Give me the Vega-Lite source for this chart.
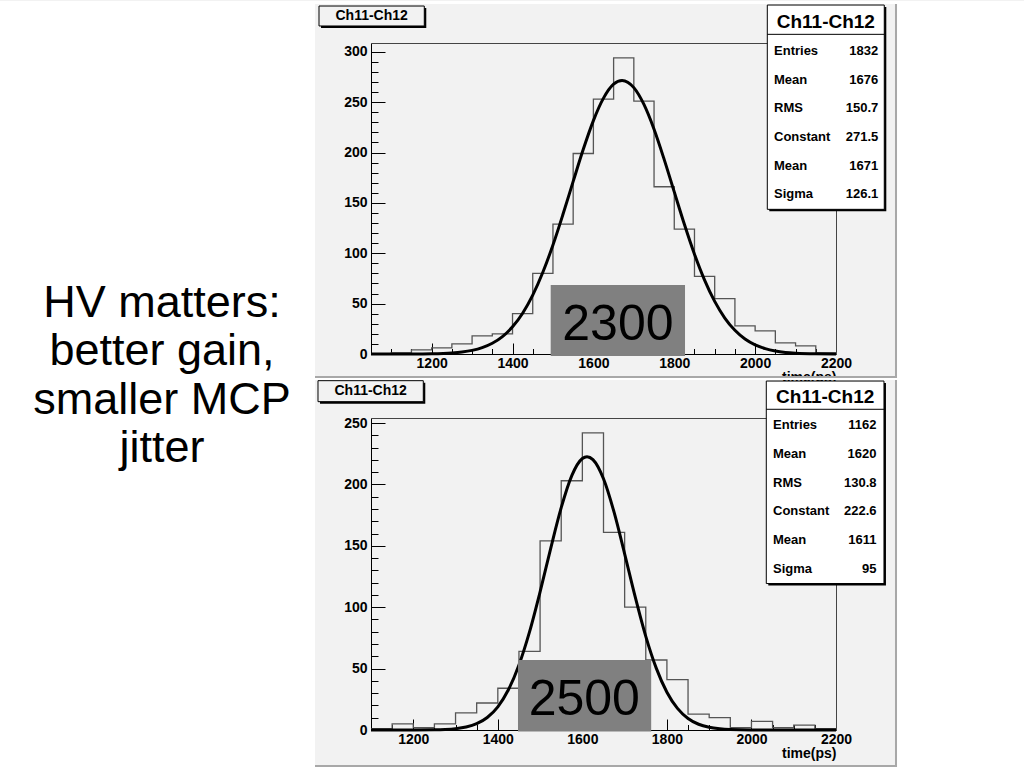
{
  "$schema": "https://vega.github.io/schema/vega-lite/v6.json",
  "background": "#f2f2f2",
  "padding": 0,
  "autosize": {"type": "pad"},
  "config": {
    "view": {"stroke": null},
    "axis": {"grid": false, "labelFont": "Liberation Sans", "labelFontSize": 14, "labelFontWeight": "bold", "labelColor": "black", "tickColor": "black", "tickWidth": 1, "domainColor": "black", "domainWidth": 1, "titleFont": "Liberation Sans", "titleFontWeight": "bold", "titleFontSize": 14, "titleColor": "black", "labelFlush": false, "labelOverlap": false}
  },
  "datasets": {
    "top_hist": [{"t":1050,"n":0},{"t":1100,"n":1},{"t":1150,"n":4},{"t":1200,"n":6},{"t":1250,"n":10},{"t":1300,"n":18},{"t":1350,"n":20},{"t":1400,"n":40},{"t":1450,"n":80},{"t":1500,"n":129},{"t":1550,"n":199},{"t":1600,"n":253},{"t":1650,"n":294},{"t":1700,"n":251},{"t":1750,"n":166},{"t":1800,"n":124},{"t":1850,"n":77},{"t":1900,"n":55},{"t":1950,"n":28},{"t":2000,"n":23},{"t":2050,"n":11},{"t":2100,"n":8},{"t":2150,"n":1},{"t":2200,"n":0}],
    "top_fit": [{"t":1050,"f":0},{"t":1100,"f":0.01},{"t":1150,"f":0.05},{"t":1200,"f":0.25},{"t":1250,"f":1.03},{"t":1275,"f":1.96},{"t":1300,"f":3.58},{"t":1325,"f":6.3},{"t":1350,"f":10.63},{"t":1375,"f":17.28},{"t":1400,"f":26.97},{"t":1425,"f":40.48},{"t":1450,"f":58.45},{"t":1475,"f":81.15},{"t":1500,"f":108.2},{"t":1525,"f":138.9},{"t":1550,"f":171.3},{"t":1575,"f":203.2},{"t":1600,"f":231.7},{"t":1625,"f":254.0},{"t":1650,"f":267.8},{"t":1671,"f":271.5},{"t":1700,"f":264.4},{"t":1725,"f":247.7},{"t":1750,"f":223.1},{"t":1775,"f":193.2},{"t":1800,"f":160.9},{"t":1825,"f":128.8},{"t":1850,"f":99.1},{"t":1875,"f":73.4},{"t":1900,"f":52.2},{"t":1925,"f":35.7},{"t":1950,"f":23.5},{"t":1975,"f":14.85},{"t":2000,"f":9.03},{"t":2025,"f":5.28},{"t":2050,"f":2.97},{"t":2075,"f":1.6},{"t":2100,"f":0.83},{"t":2150,"f":0.2},{"t":2200,"f":0.04}],
    "top_stats": [{"row":1,"k":"Entries","v":"1832"},{"row":2,"k":"Mean","v":"1676"},{"row":3,"k":"RMS","v":"150.7"},{"row":4,"k":"Constant","v":"271.5"},{"row":5,"k":"Mean","v":"1671"},{"row":6,"k":"Sigma","v":"126.1"}],
    "bot_hist": [{"t":1100,"n":1},{"t":1150,"n":5},{"t":1200,"n":2},{"t":1250,"n":5},{"t":1300,"n":14},{"t":1350,"n":22},{"t":1400,"n":34},{"t":1450,"n":64},{"t":1500,"n":154},{"t":1550,"n":203},{"t":1600,"n":242},{"t":1650,"n":161},{"t":1700,"n":100},{"t":1750,"n":57},{"t":1800,"n":41},{"t":1850,"n":13},{"t":1900,"n":10},{"t":1950,"n":2},{"t":2000,"n":7},{"t":2050,"n":2},{"t":2100,"n":4},{"t":2150,"n":1},{"t":2200,"n":0}],
    "bot_fit": [{"t":1100,"f":0},{"t":1200,"f":0.02},{"t":1250,"f":0.16},{"t":1275,"f":0.43},{"t":1300,"f":1.05},{"t":1325,"f":2.39},{"t":1350,"f":5.11},{"t":1375,"f":10.17},{"t":1400,"f":18.89},{"t":1425,"f":32.74},{"t":1450,"f":52.96},{"t":1475,"f":79.9},{"t":1500,"f":112.5},{"t":1525,"f":147.8},{"t":1550,"f":181.1},{"t":1575,"f":207.2},{"t":1600,"f":221.1},{"t":1611,"f":222.6},{"t":1625,"f":220.2},{"t":1650,"f":204.6},{"t":1675,"f":177.4},{"t":1700,"f":143.5},{"t":1725,"f":108.4},{"t":1750,"f":76.3},{"t":1775,"f":50.2},{"t":1800,"f":30.8},{"t":1825,"f":17.6},{"t":1850,"f":9.4},{"t":1875,"f":4.68},{"t":1900,"f":2.18},{"t":1925,"f":0.94},{"t":1950,"f":0.38},{"t":2000,"f":0.05},{"t":2100,"f":0},{"t":2200,"f":0}],
    "bot_stats": [{"row":1,"k":"Entries","v":"1162"},{"row":2,"k":"Mean","v":"1620"},{"row":3,"k":"RMS","v":"130.8"},{"row":4,"k":"Constant","v":"222.6"},{"row":5,"k":"Mean","v":"1611"},{"row":6,"k":"Sigma","v":"95"}]
  },
  "vconcat": [
    {
      "width": 465,
      "height": 311,
      "layer": [
        {
          "layer": [
            {"data": {"values": [{}]}, "mark": {"type": "rect", "color": "white"}, "encoding": {"x": {"datum": 132.5, "type": "quantitative", "axis": null}, "x2": {"datum": 911.5}, "y": {"datum": -411.9, "type": "quantitative", "axis": null}, "y2": {"datum": 350.4}}},
            {"data": {"values": [{}]}, "mark": {"type": "rect", "color": "white"}, "encoding": {"x": {"datum": 2350.9, "type": "quantitative", "axis": null}, "x2": {"datum": 2664.9}, "y": {"datum": -411.9, "type": "quantitative", "axis": null}, "y2": {"datum": 350.4}}},
            {"data": {"values": [{}]}, "mark": {"type": "rect", "color": "white"}, "encoding": {"x": {"datum": 911.5, "type": "quantitative", "axis": null}, "x2": {"datum": 2350.9}, "y": {"datum": 347.4, "type": "quantitative", "axis": null}, "y2": {"datum": 350.4}}},
            {"data": {"values": [{}]}, "mark": {"type": "rect", "color": "white"}, "encoding": {"x": {"datum": 911.5, "type": "quantitative", "axis": null}, "x2": {"datum": 2350.9}, "y": {"datum": -25.8, "type": "quantitative", "axis": null}, "y2": {"datum": -23.8}}},
            {"data": {"values": [{}]}, "mark": {"type": "rect", "color": "white"}, "encoding": {"x": {"datum": 911.5, "type": "quantitative", "axis": null}, "x2": {"datum": 2350.9}, "y": {"datum": -411.9, "type": "quantitative", "axis": null}, "y2": {"datum": -409.9}}},
            {"data": {"values": [{}]}, "mark": {"type": "rect", "color": "#a8a8a8"}, "encoding": {"x": {"datum": 2345.9, "type": "quantitative", "axis": null}, "x2": {"datum": 2350.9}, "y": {"datum": -23.8, "type": "quantitative", "axis": null}, "y2": {"datum": 347.4}}},
            {"data": {"values": [{}]}, "mark": {"type": "rect", "color": "#a8a8a8"}, "encoding": {"x": {"datum": 911.5, "type": "quantitative", "axis": null}, "x2": {"datum": 2350.9}, "y": {"datum": -23.8, "type": "quantitative", "axis": null}, "y2": {"datum": -21.8}}},
            {"data": {"values": [{}]}, "mark": {"type": "rect", "color": "#a8a8a8"}, "encoding": {"x": {"datum": 2345.9, "type": "quantitative", "axis": null}, "x2": {"datum": 2350.9}, "y": {"datum": -409.9, "type": "quantitative", "axis": null}, "y2": {"datum": -25.8}}},
            {"data": {"values": [{}]}, "mark": {"type": "rect", "color": "#a8a8a8"}, "encoding": {"x": {"datum": 911.5, "type": "quantitative", "axis": null}, "x2": {"datum": 2350.9}, "y": {"datum": -409.9, "type": "quantitative", "axis": null}, "y2": {"datum": -407.9}}},
            {"data": {"values": [{}]}, "mark": {"type": "text", "text": ["HV matters:", "better gain,", "smaller MCP", "jitter"], "font": "Liberation Sans", "fontSize": 45, "lineHeight": 48.5, "align": "center", "baseline": "alphabetic", "color": "black"}, "encoding": {"x": {"datum": 533.1, "type": "quantitative", "axis": null}, "y": {"datum": 37.0, "type": "quantitative", "axis": null}}},
            {
              "data": {"name": "top_hist"},
              "mark": {"type": "line", "interpolate": "step-after", "color": "#555555", "strokeWidth": 1.3},
              "encoding": {
                "x": {"field": "t", "type": "quantitative", "scale": {"domain": [1050, 2200], "nice": false, "zero": false}, "axis": {"orient": "bottom", "values": [1200, 1400, 1600, 1800, 2000, 2200], "format": "d", "ticks": false, "domain": true, "labelPadding": 2, "title": "time(ps)", "titleAnchor": "end", "titlePadding": 0}},
                "y": {"field": "n", "type": "quantitative", "scale": {"domain": [0, 308.7], "nice": false, "zero": false}, "axis": {"orient": "left", "values": [0, 50, 100, 150, 200, 250, 300], "ticks": false, "domain": true, "labelPadding": 4, "title": null}}
              }
            },
            {
              "data": {"name": "top_fit"},
              "mark": {"type": "line", "interpolate": "monotone", "color": "black", "strokeWidth": 3},
              "encoding": {
                "x": {"field": "t", "type": "quantitative", "axis": {"orient": "bottom", "values": [1200, 1400, 1600, 1800, 2000, 2200], "ticks": true, "tickSize": -11, "labels": false, "domain": false, "title": null}},
                "y": {"field": "f", "type": "quantitative", "axis": {"orient": "left", "values": [0, 50, 100, 150, 200, 250, 300], "ticks": true, "tickSize": -14, "labels": false, "domain": false, "title": null}}
              }
            },
            {
              "data": {"name": "top_hist"},
              "mark": {"type": "point", "opacity": 0},
              "encoding": {
                "x": {"field": "t", "type": "quantitative", "axis": {"orient": "bottom", "values": [1100, 1150, 1250, 1300, 1350, 1450, 1500, 1550, 1650, 1700, 1750, 1850, 1900, 1950, 2050, 2100, 2150], "ticks": true, "tickSize": -5.5, "labels": false, "domain": false, "title": null}},
                "y": {"field": "n", "type": "quantitative", "axis": {"orient": "left", "values": [10, 20, 30, 40, 60, 70, 80, 90, 110, 120, 130, 140, 160, 170, 180, 190, 210, 220, 230, 240, 260, 270, 280, 290], "ticks": true, "tickSize": -7, "labels": false, "domain": false, "title": null}}
              }
            },
            {
              "data": {"name": "top_hist"},
              "mark": {"type": "point", "opacity": 0},
              "encoding": {
                "x": {"field": "t", "type": "quantitative", "axis": {"orient": "top", "ticks": false, "labels": false, "domain": true, "domainColor": "#444444", "title": null}},
                "y": {"field": "n", "type": "quantitative", "axis": {"orient": "right", "ticks": false, "labels": false, "domain": true, "domainColor": "#444444", "title": null}}
              }
            },
            {"data": {"values": [{}]}, "mark": {"type": "rect", "color": "#808080"}, "encoding": {"x": {"datum": 1494.4, "type": "quantitative", "axis": null}, "x2": {"datum": 1826.6}, "y": {"datum": -2.0, "type": "quantitative", "axis": null}, "y2": {"datum": 68.5}}},
            {"data": {"values": [{}]}, "mark": {"type": "text", "text": "2300", "font": "Liberation Sans", "fontSize": 50, "align": "center", "baseline": "alphabetic", "color": "black"}, "encoding": {"x": {"datum": 1660.6, "type": "quantitative", "axis": null}, "y": {"datum": 13.6, "type": "quantitative", "axis": null}}},
            {"data": {"values": [{}]}, "mark": {"type": "rect", "color": "black"}, "encoding": {"x": {"datum": 926.4, "type": "quantitative", "axis": null}, "x2": {"datum": 1186.7}, "y": {"datum": 323.6, "type": "quantitative", "axis": null}, "y2": {"datum": 343.4}}},
            {"data": {"values": [{}]}, "mark": {"type": "rect", "fill": "#f2f2f2", "stroke": "black", "strokeWidth": 1}, "encoding": {"x": {"datum": 921.4, "type": "quantitative", "axis": null}, "x2": {"datum": 1181.8}, "y": {"datum": 325.6, "type": "quantitative", "axis": null}, "y2": {"datum": 345.4}}},
            {"data": {"values": [{}]}, "mark": {"type": "text", "text": "Ch11-Ch12", "font": "Liberation Sans", "fontSize": 14, "fontWeight": "bold", "align": "center", "baseline": "middle", "color": "black"}, "encoding": {"x": {"datum": 1051.6, "type": "quantitative", "axis": null}, "y": {"datum": 335.5, "type": "quantitative", "axis": null}}},
            {"data": {"values": [{}]}, "mark": {"type": "rect", "color": "black"}, "encoding": {"x": {"datum": 2035.0, "type": "quantitative", "axis": null}, "x2": {"datum": 2324.4}, "y": {"datum": 141.6, "type": "quantitative", "axis": null}, "y2": {"datum": 344.4}}},
            {"data": {"values": [{}]}, "mark": {"type": "rect", "fill": "white", "stroke": "black", "strokeWidth": 1}, "encoding": {"x": {"datum": 2030.1, "type": "quantitative", "axis": null}, "x2": {"datum": 2319.4}, "y": {"datum": 143.6, "type": "quantitative", "axis": null}, "y2": {"datum": 346.4}}},
            {"data": {"values": [{}]}, "mark": {"type": "rule", "color": "black", "strokeWidth": 1}, "encoding": {"x": {"datum": 2030.1, "type": "quantitative", "axis": null}, "x2": {"datum": 2319.4}, "y": {"datum": 317.3, "type": "quantitative", "axis": null}}},
            {"data": {"values": [{}]}, "mark": {"type": "text", "text": "Ch11-Ch12", "font": "Liberation Sans", "fontSize": 19, "fontWeight": "bold", "align": "center", "baseline": "middle", "color": "black"}, "encoding": {"x": {"datum": 2174.8, "type": "quantitative", "axis": null}, "y": {"datum": 329.8, "type": "quantitative", "axis": null}}}
          ],
          "resolve": {"axis": {"x": "independent", "y": "independent"}}
        },
        {
          "data": {"name": "top_stats"},
          "mark": {"type": "text", "align": "left", "baseline": "middle", "font": "Liberation Sans", "fontSize": 13, "fontWeight": "bold", "color": "black"},
          "encoding": {
            "x": {"datum": 2046.7, "type": "quantitative", "scale": {"domain": [1050, 2200], "nice": false, "zero": false}, "axis": null},
            "y": {"field": "row", "type": "quantitative", "scale": {"domain": [0.7209, 11.572], "reverse": true, "nice": false, "zero": false}, "axis": null},
            "text": {"field": "k"}
          }
        },
        {
          "data": {"name": "top_stats"},
          "mark": {"type": "text", "align": "right", "baseline": "middle", "font": "Liberation Sans", "fontSize": 13, "fontWeight": "bold", "color": "black"},
          "encoding": {
            "x": {"datum": 2304.6, "type": "quantitative", "scale": {"domain": [1050, 2200], "nice": false, "zero": false}, "axis": null},
            "y": {"field": "row", "type": "quantitative", "scale": {"domain": [0.7209, 11.572], "reverse": true, "nice": false, "zero": false}, "axis": null},
            "text": {"field": "v"}
          }
        }
      ],
      "resolve": {"scale": {"y": "independent"}, "axis": {"x": "independent", "y": "independent"}}
    },
    {
      "width": 465,
      "height": 312,
      "layer": [
        {
          "layer": [
            {
              "data": {"name": "bot_hist"},
              "mark": {"type": "line", "interpolate": "step-after", "color": "#555555", "strokeWidth": 1.3},
              "encoding": {
                "x": {"field": "t", "type": "quantitative", "scale": {"domain": [1100, 2200], "nice": false, "zero": false}, "axis": {"orient": "bottom", "values": [1200, 1400, 1600, 1800, 2000, 2200], "format": "d", "ticks": false, "domain": true, "labelPadding": 2, "title": "time(ps)", "titleAnchor": "end", "titlePadding": 0}},
                "y": {"field": "n", "type": "quantitative", "scale": {"domain": [0, 254.1], "nice": false, "zero": false}, "axis": {"orient": "left", "values": [0, 50, 100, 150, 200, 250], "ticks": false, "domain": true, "labelPadding": 4, "title": null}}
              }
            },
            {
              "data": {"name": "bot_fit"},
              "mark": {"type": "line", "interpolate": "monotone", "color": "black", "strokeWidth": 3},
              "encoding": {
                "x": {"field": "t", "type": "quantitative", "axis": {"orient": "bottom", "values": [1200, 1400, 1600, 1800, 2000, 2200], "ticks": true, "tickSize": -11, "labels": false, "domain": false, "title": null}},
                "y": {"field": "f", "type": "quantitative", "axis": {"orient": "left", "values": [0, 50, 100, 150, 200, 250], "ticks": true, "tickSize": -14, "labels": false, "domain": false, "title": null}}
              }
            },
            {
              "data": {"name": "bot_hist"},
              "mark": {"type": "point", "opacity": 0},
              "encoding": {
                "x": {"field": "t", "type": "quantitative", "axis": {"orient": "bottom", "values": [1100, 1150, 1250, 1300, 1350, 1450, 1500, 1550, 1650, 1700, 1750, 1850, 1900, 1950, 2050, 2100, 2150], "ticks": true, "tickSize": -5.5, "labels": false, "domain": false, "title": null}},
                "y": {"field": "n", "type": "quantitative", "axis": {"orient": "left", "values": [10, 20, 30, 40, 60, 70, 80, 90, 110, 120, 130, 140, 160, 170, 180, 190, 210, 220, 230, 240], "ticks": true, "tickSize": -7, "labels": false, "domain": false, "title": null}}
              }
            },
            {
              "data": {"name": "bot_hist"},
              "mark": {"type": "point", "opacity": 0},
              "encoding": {
                "x": {"field": "t", "type": "quantitative", "axis": {"orient": "top", "ticks": false, "labels": false, "domain": true, "domainColor": "#444444", "title": null}},
                "y": {"field": "n", "type": "quantitative", "axis": {"orient": "right", "ticks": false, "labels": false, "domain": true, "domainColor": "#444444", "title": null}}
              }
            },
            {"data": {"values": [{}]}, "mark": {"type": "rect", "color": "#808080"}, "encoding": {"x": {"datum": 1447.7, "type": "quantitative", "axis": null}, "x2": {"datum": 1762.8}, "y": {"datum": -1.2, "type": "quantitative", "axis": null}, "y2": {"datum": 57.0}}},
            {"data": {"values": [{}]}, "mark": {"type": "text", "text": "2500", "font": "Liberation Sans", "fontSize": 50, "align": "center", "baseline": "alphabetic", "color": "black"}, "encoding": {"x": {"datum": 1604.6, "type": "quantitative", "axis": null}, "y": {"datum": 12.1, "type": "quantitative", "axis": null}}},
            {"data": {"values": [{}]}, "mark": {"type": "rect", "color": "black"}, "encoding": {"x": {"datum": 979.3, "type": "quantitative", "axis": null}, "x2": {"datum": 1228.4}, "y": {"datum": 265.8, "type": "quantitative", "axis": null}, "y2": {"datum": 282.9}}},
            {"data": {"values": [{}]}, "mark": {"type": "rect", "fill": "#f2f2f2", "stroke": "black", "strokeWidth": 1}, "encoding": {"x": {"datum": 974.6, "type": "quantitative", "axis": null}, "x2": {"datum": 1223.7}, "y": {"datum": 267.4, "type": "quantitative", "axis": null}, "y2": {"datum": 284.5}}},
            {"data": {"values": [{}]}, "mark": {"type": "text", "text": "Ch11-Ch12", "font": "Liberation Sans", "fontSize": 14, "fontWeight": "bold", "align": "center", "baseline": "middle", "color": "black"}, "encoding": {"x": {"datum": 1099.2, "type": "quantitative", "axis": null}, "y": {"datum": 275.9, "type": "quantitative", "axis": null}}},
            {"data": {"values": [{}]}, "mark": {"type": "rect", "color": "black"}, "encoding": {"x": {"datum": 2039.8, "type": "quantitative", "axis": null}, "x2": {"datum": 2318.2}, "y": {"datum": 117.7, "type": "quantitative", "axis": null}, "y2": {"datum": 282.6}}},
            {"data": {"values": [{}]}, "mark": {"type": "rect", "fill": "white", "stroke": "black", "strokeWidth": 1}, "encoding": {"x": {"datum": 2035.1, "type": "quantitative", "axis": null}, "x2": {"datum": 2313.5}, "y": {"datum": 119.3, "type": "quantitative", "axis": null}, "y2": {"datum": 284.2}}},
            {"data": {"values": [{}]}, "mark": {"type": "rule", "color": "black", "strokeWidth": 1}, "encoding": {"x": {"datum": 2035.1, "type": "quantitative", "axis": null}, "x2": {"datum": 2313.5}, "y": {"datum": 261.2, "type": "quantitative", "axis": null}}},
            {"data": {"values": [{}]}, "mark": {"type": "text", "text": "Ch11-Ch12", "font": "Liberation Sans", "fontSize": 19, "fontWeight": "bold", "align": "center", "baseline": "middle", "color": "black"}, "encoding": {"x": {"datum": 2174.4, "type": "quantitative", "axis": null}, "y": {"datum": 271.4, "type": "quantitative", "axis": null}}}
          ],
          "resolve": {"axis": {"x": "independent", "y": "independent"}}
        },
        {
          "data": {"name": "bot_stats"},
          "mark": {"type": "text", "align": "left", "baseline": "middle", "font": "Liberation Sans", "fontSize": 13, "fontWeight": "bold", "color": "black"},
          "encoding": {
            "x": {"datum": 2051.0, "type": "quantitative", "scale": {"domain": [1100, 2200], "nice": false, "zero": false}, "axis": null},
            "y": {"field": "row", "type": "quantitative", "scale": {"domain": [0.7455, 11.624], "reverse": true, "nice": false, "zero": false}, "axis": null},
            "text": {"field": "k"}
          }
        },
        {
          "data": {"name": "bot_stats"},
          "mark": {"type": "text", "align": "right", "baseline": "middle", "font": "Liberation Sans", "fontSize": 13, "fontWeight": "bold", "color": "black"},
          "encoding": {
            "x": {"datum": 2295.8, "type": "quantitative", "scale": {"domain": [1100, 2200], "nice": false, "zero": false}, "axis": null},
            "y": {"field": "row", "type": "quantitative", "scale": {"domain": [0.7455, 11.624], "reverse": true, "nice": false, "zero": false}, "axis": null},
            "text": {"field": "v"}
          }
        }
      ],
      "resolve": {"scale": {"y": "independent"}, "axis": {"x": "independent", "y": "independent"}}
    }
  ],
  "spacing": 64,
  "bounds": "flush"
}
